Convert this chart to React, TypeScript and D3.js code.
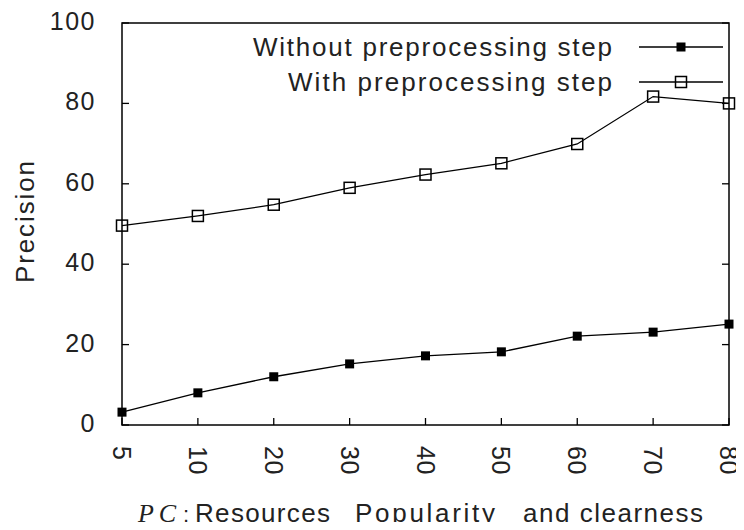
import React, { useRef, useEffect } from 'react';
import * as d3 from 'd3';

const categories = ['5', '10', '20', '30', '40', '50', '60', '70', '80'];
const withoutPre = [3.2, 8, 12, 15.2, 17.2, 18.2, 22.1, 23.1, 25.1];
const withPre = [49.6, 52, 54.8, 59, 62.3, 65.1, 69.9, 81.7, 80];
const yTicks = [0, 20, 40, 60, 80, 100];
const legendLabels = ['Without preprocessing step', 'With preprocessing step'];

const App = () => {
  const ref = useRef(null);

  useEffect(() => {
    const width = 744;
    const height = 530;
    const left = 122, right = 729, top = 23, bottom = 425;
    const font = '"Liberation Sans", Arial, sans-serif';
    const ink = '#222';

    const svg = d3.select(ref.current);
    svg.selectAll('*').remove();
    svg.attr('width', width).attr('height', height);

    const x = d3.scalePoint().domain(categories).range([left, right]);
    const y = d3.scaleLinear().domain([0, 100]).range([bottom, top]);

    const label = (tx, ty, str, opts: any = {}) => {
      const t = svg.append('text')
        .attr('x', tx).attr('y', ty)
        .attr('font-family', opts.family || font)
        .attr('font-size', opts.size || 25)
        .attr('fill', ink)
        .attr('text-anchor', opts.anchor || 'start')
        .text(str);
      if (opts.baseline) t.attr('dominant-baseline', opts.baseline);
      if (opts.spacing) t.attr('letter-spacing', opts.spacing);
      if (opts.len) t.attr('textLength', opts.len).attr('lengthAdjust', 'spacing');
      if (opts.italic) t.attr('font-style', 'italic');
      if (opts.transform) t.attr('transform', opts.transform);
      return t;
    };

    // frame
    svg.append('rect')
      .attr('x', left).attr('y', top)
      .attr('width', right - left).attr('height', bottom - top)
      .attr('fill', 'none').attr('stroke', '#000').attr('stroke-width', 1.5);

    // y ticks (inward, both sides)
    yTicks.forEach(t => {
      svg.append('line')
        .attr('x1', left).attr('x2', left + 7)
        .attr('y1', y(t)).attr('y2', y(t))
        .attr('stroke', '#000').attr('stroke-width', 1.3);
      svg.append('line')
        .attr('x1', right).attr('x2', right - 7)
        .attr('y1', y(t)).attr('y2', y(t))
        .attr('stroke', '#000').attr('stroke-width', 1.3);
      label(96, y(t) - 2, String(t), { anchor: 'end', baseline: 'central', spacing: 1.5 });
    });

    // x ticks
    categories.forEach(c => {
      svg.append('line')
        .attr('x1', x(c)).attr('x2', x(c))
        .attr('y1', bottom).attr('y2', bottom - 7)
        .attr('stroke', '#000').attr('stroke-width', 1.3);
      label(0, 0, c, {
        baseline: 'central', spacing: 0.5,
        transform: `translate(${x(c)},${446}) rotate(90)`,
      });
    });

    const line = d3.line<number>()
      .x((d, i) => x(categories[i]))
      .y(d => y(d));

    const drawFilled = (cx, cy) => {
      svg.append('rect')
        .attr('x', cx - 4.5).attr('y', cy - 4.5)
        .attr('width', 9).attr('height', 9)
        .attr('fill', '#000');
    };
    const drawOpen = (cx, cy) => {
      svg.append('rect')
        .attr('x', cx - 5.5).attr('y', cy - 5.5)
        .attr('width', 11).attr('height', 11)
        .attr('fill', 'none').attr('stroke', '#000').attr('stroke-width', 1.5);
    };

    svg.append('path')
      .attr('d', line(withPre))
      .attr('fill', 'none').attr('stroke', '#000').attr('stroke-width', 1.3);
    withPre.forEach((v, i) => drawOpen(x(categories[i]), y(v)));

    svg.append('path')
      .attr('d', line(withoutPre))
      .attr('fill', 'none').attr('stroke', '#000').attr('stroke-width', 1.3);
    withoutPre.forEach((v, i) => drawFilled(x(categories[i]), y(v)));

    // legend
    const legendRows = [47, 82];
    const legendLens = [359, 324];
    legendLabels.forEach((lab, i) => {
      const ly = legendRows[i];
      label(612, ly, lab, { anchor: 'end', baseline: 'central', len: legendLens[i], size: 26 });
      svg.append('line')
        .attr('x1', 639).attr('x2', 723)
        .attr('y1', ly).attr('y2', ly)
        .attr('stroke', '#000').attr('stroke-width', 1.3);
      if (i === 0) drawFilled(681, ly);
      else drawOpen(681, ly);
    });

    // y title
    label(0, 0, 'Precision', {
      anchor: 'middle', baseline: 'central', len: 122, size: 26,
      transform: 'translate(25,222) rotate(-90)',
    });

    // x title
    label(138, 522, 'PC', { family: '"Liberation Serif", serif', italic: true, size: 26, len: 38 });
    label(183, 522, ':', { size: 22 });
    label(195, 522, 'Resources', { size: 26, len: 135 });
    label(355, 522, 'Popularity', { size: 26, len: 140 });
    label(523, 522, 'and clearness', { size: 26, len: 180 });
  }, []);

  return <svg ref={ref} style={{ display: 'block', margin: '-8px' }} />;
};

export default App;
